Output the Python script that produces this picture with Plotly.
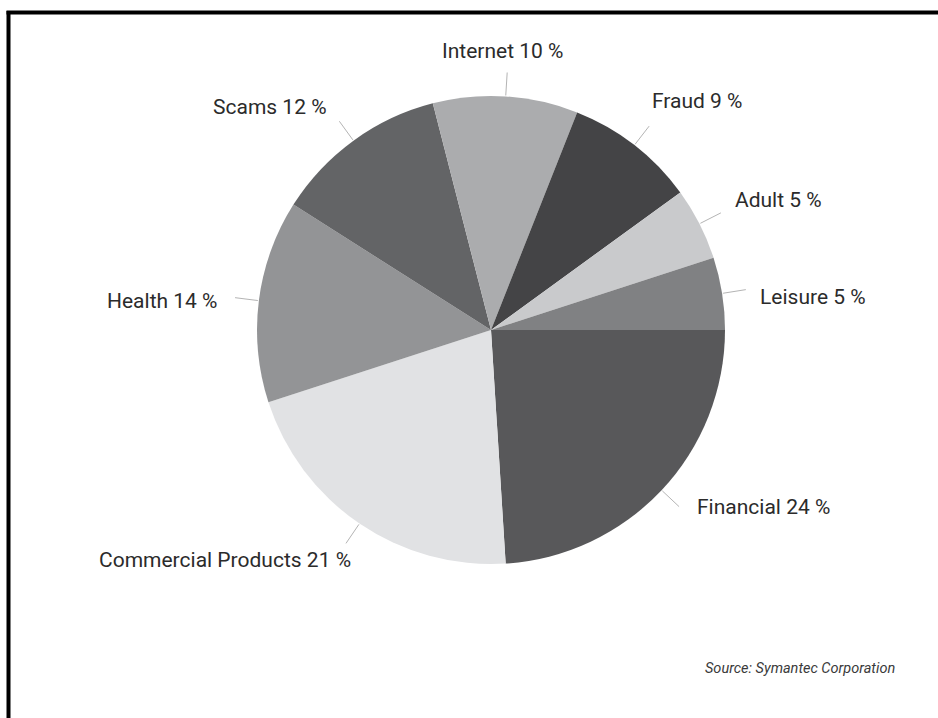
import numpy as np
import plotly.graph_objects as go

# Spam categories and their share of total spam (percent)
categories = ["Financial", "Commercial Products", "Health", "Scams",
              "Internet", "Fraud", "Adult", "Leisure"]
shares = [24, 21, 14, 12, 10, 9, 5, 5]
slice_colors = ["#58585a", "#e1e2e4", "#939496", "#636466",
                "#abacae", "#444446", "#c9cacc", "#808183"]
source_note = "Source: Symantec Corporation"

W, H = 938, 718
cx, cy, R = 491, 330, 234          # pie centre and radius in pixels
FONT = "Roboto"

# small hand adjustments (pixels, screen axes) for label placement
label_nudge = {
    "Financial": (10, -5), "Commercial Products": (12, 10),
    "Health": (-7, 4), "Scams": (-6, -8), "Internet": (-5, 0),
    "Fraud": (-4, -19), "Adult": (5, -9), "Leisure": (4, 9),
}


def to_paper(px, py):
    return px / W, 1 - py / H


fig = go.Figure(go.Pie(
    labels=categories,
    values=shares,
    sort=False,
    direction="clockwise",
    rotation=90,
    marker=dict(colors=slice_colors, line=dict(width=0)),
    textinfo="none",
    hoverinfo="label+percent",
    showlegend=False,
    domain=dict(x=[(cx - R) / W, (cx + R) / W],
                y=[(H - cy - R) / H, (H - cy + R) / H]),
))

# Leader lines and outside labels placed at each slice's mid angle
total = float(sum(shares))
shapes = []
annotations = []
start = 0.0
for cat, val in zip(categories, shares):
    sweep = 360.0 * val / total
    mid = np.radians(start + sweep / 2)   # clockwise from 3 o'clock
    start += sweep
    dx, dy = np.cos(mid), np.sin(mid)
    x0, y0 = to_paper(cx + (R + 1) * dx, cy + (R + 1) * dy)
    x1, y1 = to_paper(cx + (R + 24) * dx, cy + (R + 24) * dy)
    shapes.append(dict(type="line", xref="paper", yref="paper",
                       x0=x0, y0=y0, x1=x1, y1=y1,
                       line=dict(color="#b4b4b4", width=1)))
    nx, ny = label_nudge.get(cat, (0, 0))
    lx, ly = to_paper(cx + (R + 32) * dx + nx, cy + (R + 32) * dy + ny)
    if dx > 0.3:
        xa = "left"
    elif dx < -0.3:
        xa = "right"
    else:
        xa = "center"
    ya = "bottom" if dy < -0.9 else "middle"
    annotations.append(dict(x=lx, y=ly, xref="paper", yref="paper",
                            text=f"{cat} {val} %", showarrow=False,
                            xanchor=xa, yanchor=ya,
                            font=dict(family=FONT, size=21, color="#2b2b2b")))

annotations.append(dict(x=897 / W, y=1 - 668 / H, xref="paper", yref="paper",
                        text=f"<i>{source_note}</i>", showarrow=False,
                        xanchor="right", yanchor="middle",
                        font=dict(family=FONT, size=14.5, color="#3a3a3a")))

# Frame: left and top rules
shapes.append(dict(type="line", xref="paper", yref="paper",
                   x0=8.5 / W, x1=8.5 / W, y0=0, y1=1 - 11 / H,
                   line=dict(color="black", width=4)))
shapes.append(dict(type="line", xref="paper", yref="paper",
                   x0=6.5 / W, x1=1, y0=1 - 12.5 / H, y1=1 - 12.5 / H,
                   line=dict(color="black", width=4)))

fig.update_layout(
    width=W, height=H,
    margin=dict(l=0, r=0, t=0, b=0),
    paper_bgcolor="white",
    plot_bgcolor="white",
    shapes=shapes,
    annotations=annotations,
)

fig.write_html("out.html")
